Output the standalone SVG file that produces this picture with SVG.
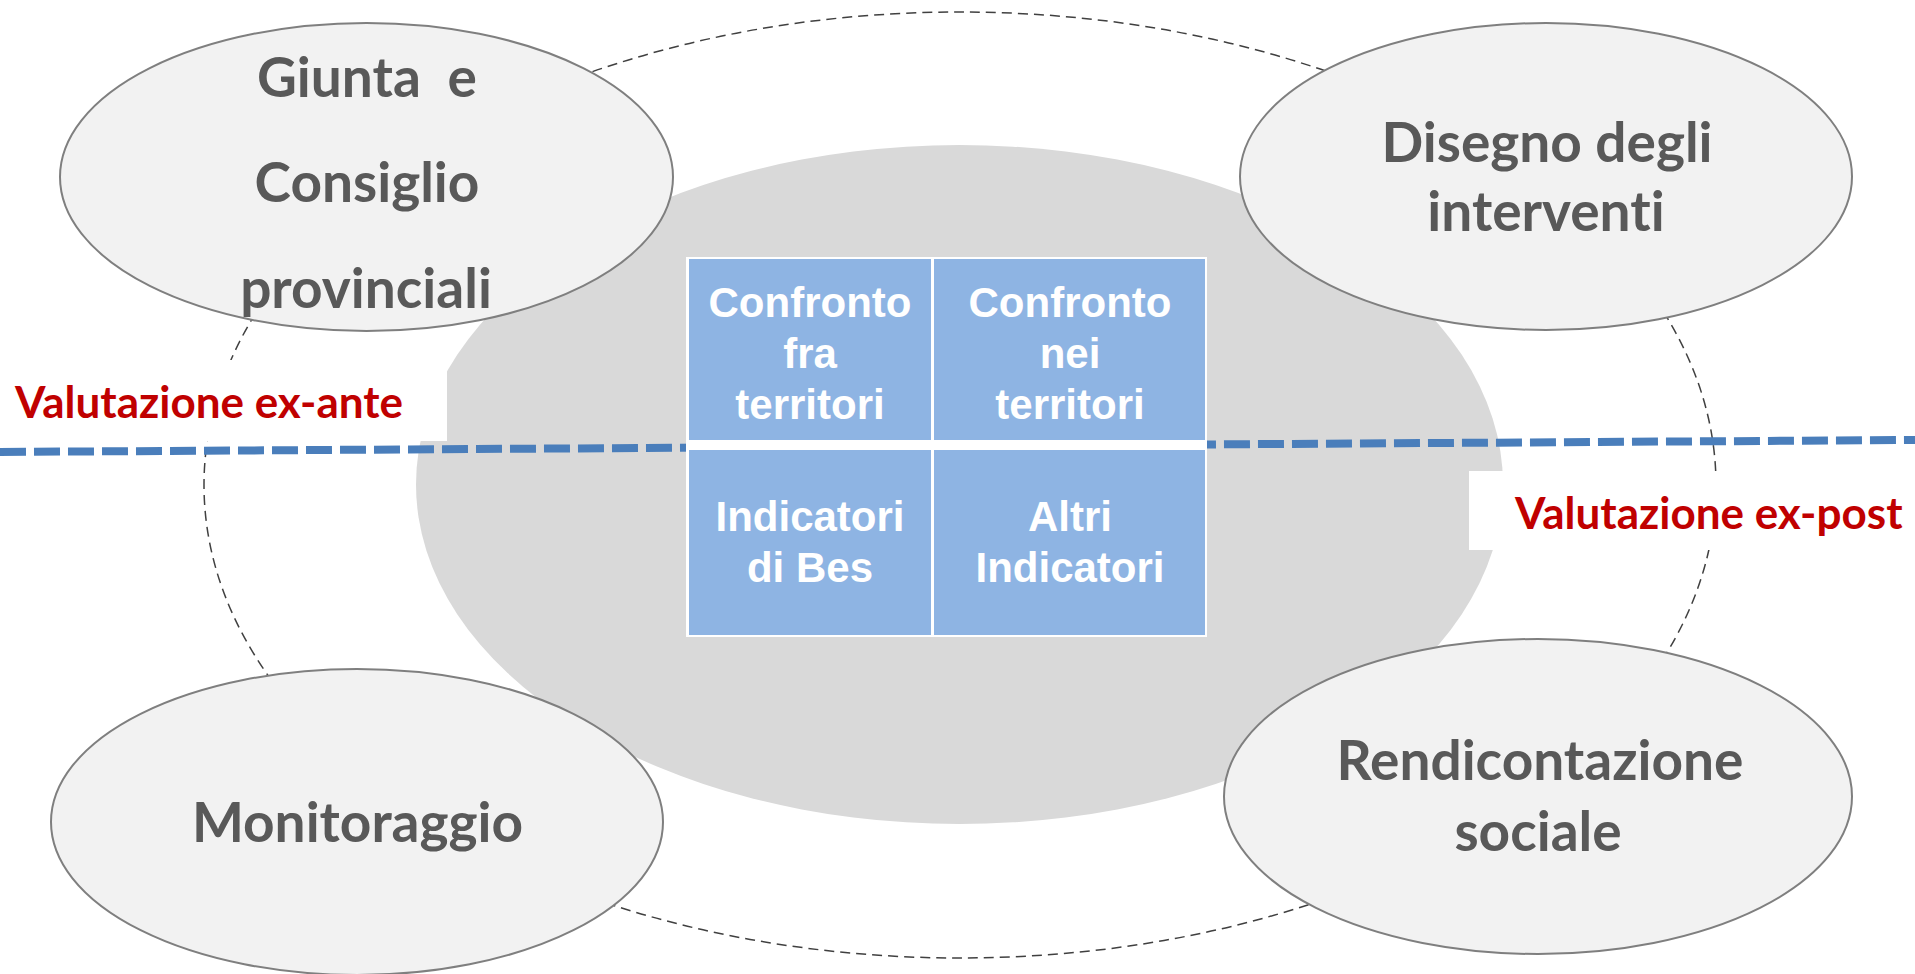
<svg xmlns="http://www.w3.org/2000/svg" width="1915" height="974" viewBox="0 0 1915 974">
<style>
.node{fill:#F2F2F2;stroke:#7F7F7F;stroke-width:2}
.lbl{font-family:Lato,"Open Sans","Liberation Sans",sans-serif;font-weight:bold;font-size:55px;fill:#595959;text-anchor:middle;font-variant-ligatures:none}
.cell{fill:#8EB4E3;stroke:none}
.ct{font-family:"Liberation Sans",Arial,sans-serif;font-weight:bold;font-size:42px;fill:#FFFFFF;text-anchor:middle}
.red{font-family:Lato,"Open Sans","Liberation Sans",sans-serif;font-weight:bold;font-size:44px;fill:#C00000;font-variant-ligatures:none}
</style>
<rect width="1915" height="974" fill="#FFFFFF"/>
<g id="connectors">
<ellipse id="cycle" cx="960" cy="485" rx="756" ry="473" fill="none" stroke="#404040" stroke-width="1.5" stroke-dasharray="10 6"/>
</g>
<g id="core">
<ellipse cx="959.5" cy="484.5" rx="543.5" ry="339.5" fill="#D9D9D9"/>
</g>
<rect id="exante-bg" x="0" y="360" width="447" height="81" fill="#FFFFFF"/>
<rect id="expost-bg" x="1469" y="471" width="446" height="79" fill="#FFFFFF"/>
<g id="divider">
<line x1="0" y1="452" x2="1915" y2="440" stroke="#4A7EBB" stroke-width="8" stroke-dasharray="26 8"/>
</g>
<g id="grid">
<rect x="686" y="257" width="521" height="380" fill="#FFFFFF"/>
<g id="cell-fra">
<rect class="cell" x="689" y="259" width="242" height="181"/>
<text class="ct" x="810" y="317">Confronto</text>
<text class="ct" x="810" y="368">fra</text>
<text class="ct" x="810" y="419">territori</text>
</g>
<g id="cell-nei">
<rect class="cell" x="934" y="259" width="271" height="181"/>
<text class="ct" x="1070" y="317">Confronto</text>
<text class="ct" x="1070" y="368">nei</text>
<text class="ct" x="1070" y="419">territori</text>
</g>
<g id="cell-bes">
<rect class="cell" x="689" y="450" width="242" height="185"/>
<text class="ct" x="810" y="531">Indicatori</text>
<text class="ct" x="810" y="582">di Bes</text>
</g>
<g id="cell-altri">
<rect class="cell" x="934" y="450" width="271" height="185"/>
<text class="ct" x="1070" y="531">Altri</text>
<text class="ct" x="1070" y="582">Indicatori</text>
</g>
</g>
<g id="node-giunta">
<ellipse class="node" cx="366.5" cy="177" rx="306.5" ry="154"/>
<text class="lbl" x="367" y="97" xml:space="preserve">Giunta  e</text>
<text class="lbl" x="367" y="202">Consiglio</text>
<text class="lbl" x="366" y="308">provinciali</text>
</g>
<g id="node-disegno">
<ellipse class="node" cx="1546" cy="176.5" rx="306" ry="153.5"/>
<text class="lbl" x="1547" y="162">Disegno degli</text>
<text class="lbl" x="1546" y="231">interventi</text>
</g>
<g id="node-monitoraggio">
<ellipse class="node" cx="357" cy="822" rx="306" ry="153"/>
<text class="lbl" x="357.5" y="842">Monitoraggio</text>
</g>
<g id="node-rendicontazione">
<ellipse class="node" cx="1538" cy="796.5" rx="314" ry="157.5"/>
<text class="lbl" x="1540" y="780">Rendicontazione</text>
<text class="lbl" x="1538" y="851">sociale</text>
</g>
<text id="exante" class="red" x="15" y="418">Valutazione ex-ante</text>
<text id="expost" class="red" x="1515" y="529">Valutazione ex-post</text>
</svg>
